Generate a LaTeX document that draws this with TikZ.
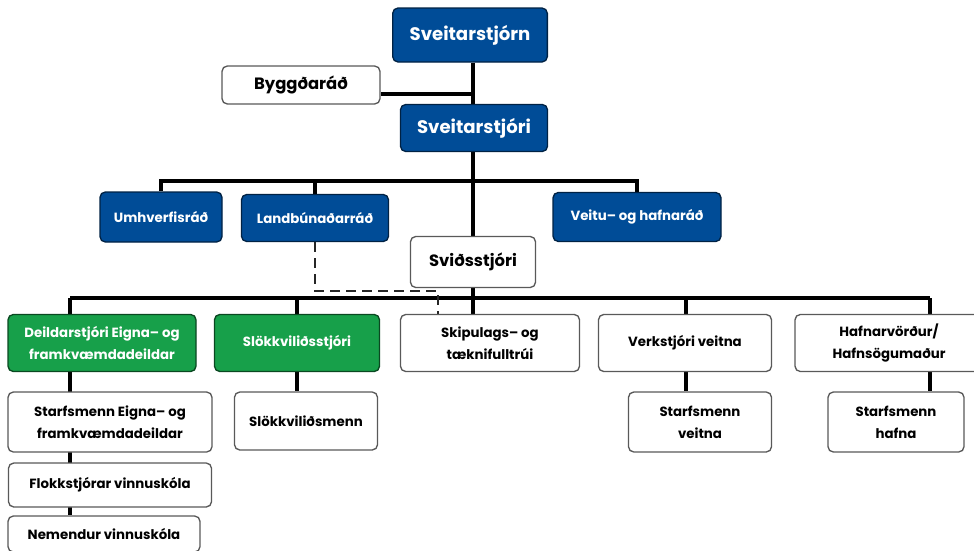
\documentclass[tikz,border=0pt]{standalone}
\usepackage{fontspec}
\setmainfont{Poppins}
\usetikzlibrary{backgrounds}
\definecolor{orgBlue}{HTML}{004C97}
\definecolor{orgGreen}{HTML}{17A04A}
\tikzset{
  box/.style={draw=black!65, line width=1pt, rounded corners=4pt, align=center,
    inner sep=0pt, font=\bfseries\fontsize{10}{16.5}\selectfont},
  blueBox/.style={box, fill=orgBlue, draw=orgBlue!45!black, text=white},
  greenBox/.style={box, fill=orgGreen, draw=orgGreen!45!black, text=white},
  whiteBox/.style={box, fill=white},
  bigText/.style={font=\bfseries\fontsize{13.6}{16}\selectfont},
  midText/.style={font=\bfseries\fontsize{12.3}{16}\selectfont},
  link/.style={line width=2.6pt},
  dashLink/.style={line width=2pt, black!85, dash pattern=on 7.5pt off 4.5pt},
}

\begin{document}
\begin{tikzpicture}[x={(0.75pt,0)}, y={(0,-0.75pt)}]
\useasboundingbox (0,0) rectangle (974,550);
\node[blueBox, bigText, minimum width=116pt, minimum height=40.5pt] (sveitarstjorn) at (470,35) {Sveitarstjórn};
\node[whiteBox, midText, minimum width=118.5pt, minimum height=28.5pt] (byggdarad) at (301,85) {Byggðaráð};
\node[blueBox, bigText, minimum width=110.3pt, minimum height=35.3pt] (sveitarstjori) at (474,128) {Sveitarstjóri};
\node[blueBox, minimum width=91.5pt, minimum height=37.5pt] (umhverfisrad) at (161,217) {Umhverfisráð};
\node[blueBox, minimum width=110.3pt, minimum height=35.3pt] (landbunadarrad) at (315,218) {Landbúnaðarráð};
\node[blueBox, minimum width=126pt, minimum height=36.8pt] (veituHafnarad) at (637,217) {Veitu– og hafnaráð};
\node[whiteBox, midText, minimum width=93.8pt, minimum height=38.3pt] (svidsstjori) at (473,262) {Sviðsstjóri};

\node[greenBox, minimum width=141pt, minimum height=42.8pt] (deildarstjori) at (102,343) {Deildarstjóri Eigna– og\\framkvæmdadeildar};
\node[greenBox, minimum width=123.8pt, minimum height=42.8pt] (slokkvilidsstjori) at (297,343) {Slökkviliðsstjóri};
\node[whiteBox, minimum width=134.3pt, minimum height=42.8pt] (skipulags) at (490,343) {Skipulags– og\\tæknifulltrúi};
\node[whiteBox, minimum width=129.8pt, minimum height=42.8pt] (verkstjori) at (685,343) {Verkstjóri veitna};
\node[whiteBox, minimum width=141pt, minimum height=42.8pt] (hafnarvordur) at (889,343) {Hafnarvörður/\\Hafnsögumaður};

\node[whiteBox, minimum width=153pt, minimum height=45pt] (starfsmennEigna) at (110,422) {Starfsmenn Eigna– og\\framkvæmdadeildar};
\node[whiteBox, minimum width=107.3pt, minimum height=43.5pt] (slokkvilidsmenn) at (306,421) {Slökkviliðsmenn};
\node[whiteBox, minimum width=107.3pt, minimum height=45pt] (starfsmennVeitna) at (700,422) {Starfsmenn\\veitna};
\node[whiteBox, minimum width=102pt, minimum height=45pt] (starfsmennHafna) at (896,422) {Starfsmenn\\hafna};
\node[whiteBox, minimum width=152.3pt, minimum height=33pt] (flokkstjorar) at (110,485) {Flokkstjórar vinnuskóla};
\node[whiteBox, minimum width=144pt, minimum height=27pt] (nemendur) at (104,534) {Nemendur vinnuskóla};

\coordinate (trunkByggd) at (473,94);
\coordinate (busOne) at (473,181);
\coordinate (busTwo) at (473,298);
\coordinate (dropEigna) at (70,298);
\coordinate (dropVeitna) at (686,298);
\coordinate (dropHafna) at (930,298);
\coordinate (dashTurn) at (438,291);

\begin{scope}[on background layer]
\draw[link] (sveitarstjorn.south -| busOne) -- (svidsstjori.north -| busOne);
\draw[link] (trunkByggd) -- (trunkByggd -| byggdarad.east);
\draw[link] (umhverfisrad.north) |- (busOne);
\draw[link] (landbunadarrad.north) |- (busOne);
\draw[link] (veituHafnarad.north) |- (busOne);
\draw[link] (svidsstjori.south) -- (skipulags.north -| svidsstjori.south);
\draw[link] (dropEigna) -- (dropHafna);
\draw[link] (dropEigna) -- (dropEigna |- deildarstjori.north);
\draw[link] (slokkvilidsstjori.north) -- (slokkvilidsstjori.north |- busTwo);
\draw[link] (dropVeitna) -- (dropVeitna |- verkstjori.north);
\draw[link] (dropHafna) -- (dropHafna |- hafnarvordur.north);
\draw[link] (deildarstjori.south -| dropEigna) -- (nemendur.north -| dropEigna);
\draw[link] (slokkvilidsstjori.south) -- (slokkvilidsstjori.south |- slokkvilidsmenn.north);
\draw[link] (verkstjori.south -| dropVeitna) -- (starfsmennVeitna.north -| dropVeitna);
\draw[link] (hafnarvordur.south -| dropHafna) -- (starfsmennHafna.north -| dropHafna);
\draw[dashLink] (landbunadarrad.south) |- (dashTurn) -- (dashTurn |- skipulags.north);
\end{scope}
\end{tikzpicture}
\end{document}
